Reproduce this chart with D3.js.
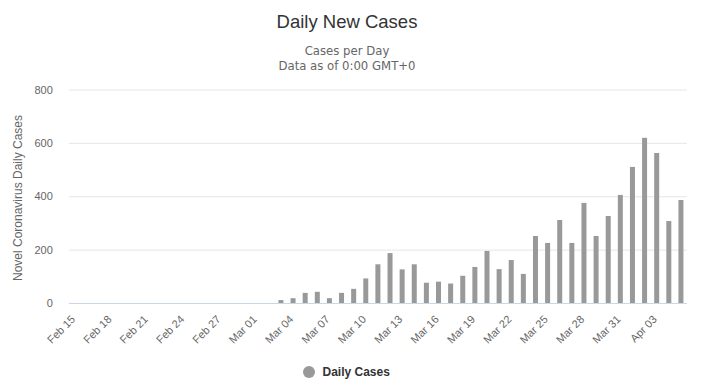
<!DOCTYPE html>
<html>
<head>
<meta charset="utf-8">
<script src="https://cdn.jsdelivr.net/npm/d3@7"></script>
<style>
  html, body { margin: 0; padding: 0; background: #fff; }
  svg { display: block; font-family: "Liberation Sans", Arial, sans-serif; }
</style>
</head>
<body>
<svg id="chart" width="714" height="389"></svg>
<script>
const categories = [
  "Feb 15","Feb 16","Feb 17","Feb 18","Feb 19","Feb 20","Feb 21","Feb 22","Feb 23","Feb 24",
  "Feb 25","Feb 26","Feb 27","Feb 28","Feb 29",
  "Mar 01","Mar 02","Mar 03","Mar 04","Mar 05","Mar 06","Mar 07","Mar 08","Mar 09","Mar 10",
  "Mar 11","Mar 12","Mar 13","Mar 14","Mar 15","Mar 16","Mar 17","Mar 18","Mar 19","Mar 20",
  "Mar 21","Mar 22","Mar 23","Mar 24","Mar 25","Mar 26","Mar 27","Mar 28","Mar 29","Mar 30",
  "Mar 31","Apr 01","Apr 02","Apr 03","Apr 04","Apr 05"
];
const dailyCases = [
  0,0,0,0,0,0,0,0,0,0,
  0,0,0,0,0,
  0,0,11,18,38,42,18,38,53,92,
  145,187,126,145,76,80,73,102,135,195,
  127,161,109,251,225,311,225,375,251,326,
  405,510,619,562,307,386
];
const yTicks = [0, 200, 400, 600, 800];
const xTickLabels = categories.filter((d, i) => i % 3 === 0);

const svg = d3.select("#chart");
const plotL = 68.8, plotR = 687, plotT = 89.5, plotB = 303;
const cx = 347;

const x = d3.scaleBand().domain(categories).range([plotL, plotR]).padding(0);
const y = d3.scaleLinear().domain([0, 800]).range([plotB, plotT]);

// title
svg.append("text").attr("x", cx).attr("y", 27.5).attr("text-anchor", "middle")
  .attr("fill", "#333333").style("font-size", "18.5px").text("Daily New Cases");
svg.append("text").attr("x", cx).attr("y", 55).attr("text-anchor", "middle")
  .attr("fill", "#666666").style("font-size", "11.7px")
  .style("font-family", "'DejaVu Sans', sans-serif").text("Cases per Day");
svg.append("text").attr("x", cx).attr("y", 69.5).attr("text-anchor", "middle")
  .attr("fill", "#666666").style("font-size", "11.7px")
  .style("font-family", "'DejaVu Sans', sans-serif").text("Data as of 0:00 GMT+0");

// gridlines
const yAxis = d3.axisLeft(y).tickValues(yTicks).tickSize(-(plotR - plotL)).tickPadding(16);
const gy = svg.append("g").attr("transform", `translate(${plotL},0)`).call(yAxis);
gy.select(".domain").remove();
gy.selectAll(".tick line").attr("stroke", "#e6e6e6");
gy.selectAll(".tick").filter(d => d === 0).select("line").remove();
gy.selectAll(".tick text").attr("fill", "#666666").style("font-size", "11px")
  .style("font-family", "'Liberation Sans', Arial, sans-serif");

// bars
const barW = 5;
svg.append("g").selectAll("rect").data(categories).join("rect")
  .attr("x", (d) => x(d) + x.bandwidth() / 2 - barW / 2)
  .attr("y", (d, i) => y(dailyCases[i]))
  .attr("width", barW)
  .attr("height", (d, i) => y(0) - y(dailyCases[i]))
  .attr("fill", "#999999");

// x axis
const xAxis = d3.axisBottom(x).tickValues(xTickLabels).tickSize(0).tickPadding(0);
const gx = svg.append("g").attr("transform", `translate(0,${plotB})`).call(xAxis);
gx.select(".domain").attr("stroke", "#ccd6eb").attr("d", `M${plotL},0.5H${plotR}`);
gx.selectAll(".tick text")
  .attr("fill", "#666666").style("font-size", "11px")
  .style("font-family", "'Liberation Sans', Arial, sans-serif")
  .attr("text-anchor", "end")
  .attr("dy", null)
  .attr("y", 0)
  .attr("transform", "translate(1,17) rotate(-45)");

// y axis title
svg.append("text")
  .attr("transform", "translate(21.5,198) rotate(-90)")
  .attr("text-anchor", "middle").attr("fill", "#666666")
  .style("font-size", "12px").text("Novel Coronavirus Daily Cases");

// legend
svg.append("circle").attr("cx", 309).attr("cy", 372).attr("r", 6).attr("fill", "#999999");
svg.append("text").attr("x", 322.5).attr("y", 376).attr("fill", "#333333")
  .style("font-size", "12px").style("font-weight", "bold").text("Daily Cases");
</script>
</body>
</html>
